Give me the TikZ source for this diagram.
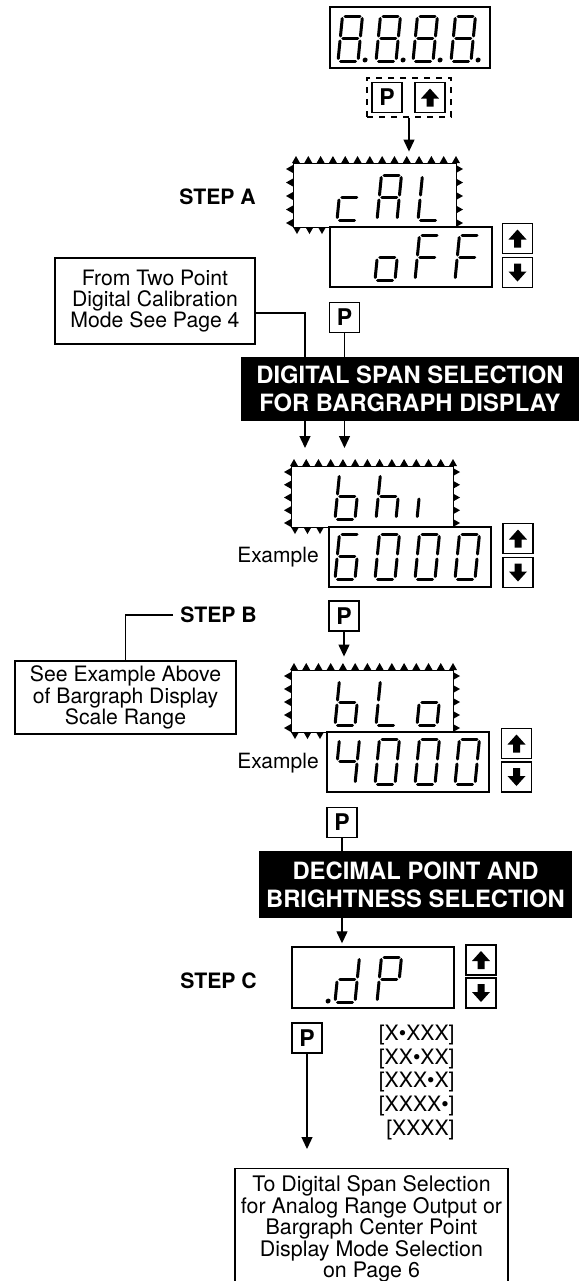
\documentclass[tikz,border=0pt]{standalone}
\usepackage{fontspec}
\setmainfont{TeX Gyre Heros}
\usetikzlibrary{arrows.meta,positioning}

\tikzset{
  seg/.style={line width=1.5pt, line cap=round},
  blinkbox/.style={draw, line width=0.45pt, inner sep=0pt},
  readout/.style={draw, line width=0.7pt, minimum width=81pt, minimum height=30pt, inner sep=0pt},
  button/.style={draw, line width=0.7pt, minimum width=15pt, minimum height=15pt, inner sep=0pt,
    font=\bfseries\fontsize{11.5}{12}\selectfont},
  upbutton/.style={button, path picture={\fill ([yshift=4.5pt]path picture bounding box.center)
    -- ++(9,10) -- ++(-5.5,0) -- ++(0,8) -- ++(-7,0) -- ++(0,-8) -- ++(-5.5,0) -- cycle;}},
  downbutton/.style={button, path picture={\fill ([yshift=-4.5pt]path picture bounding box.center)
    -- ++(9,-10) -- ++(-5.5,0) -- ++(0,-8) -- ++(-7,0) -- ++(0,8) -- ++(-5.5,0) -- cycle;}},
  notebox/.style={draw, line width=0.7pt, align=center, inner sep=0pt, font=\fontsize{10.6}{10.6}\selectfont},
  textlabel/.style={inner sep=0pt, font=\fontsize{10.5}{10.5}\selectfont},
  steplabel/.style={font=\bfseries\fontsize{10.6}{12}\selectfont},
  banner/.style={fill=black, text=white, align=center, inner sep=0pt, font=\bfseries\fontsize{11.9}{14}\selectfont},
  flow/.style={line width=0.65pt, -{Triangle[length=6pt, width=5.5pt]}},
  joinline/.style={line width=0.65pt},
}

% segments of one digit, origin at its lower left corner
\newcommand*{\Sega}{\draw[seg] (2.5,-45) -- (17.5,-45);}
\newcommand*{\Segb}{\draw[seg] (20,-42.5) -- (20,-25);}
\newcommand*{\Segc}{\draw[seg] (20,-20) -- (20,-2.5);}
\newcommand*{\Segd}{\draw[seg] (2.5,0) -- (17.5,0);}
\newcommand*{\Sege}{\draw[seg] (0,-20) -- (0,-2.5);}
\newcommand*{\Segf}{\draw[seg] (0,-42.5) -- (0,-25);}
\newcommand*{\Segg}{\draw[seg] (2.5,-22.5) -- (17.5,-22.5);}
\newcommand*{\Segp}{\fill (27,-1) circle (2.5);}
\newcommand*{\SevenSeg}[3]{%
  \begin{scope}[shift={(#1,#2)}, xslant=0.1]
    \foreach \sg in {#3}{\csname Seg\sg\endcsname}
  \end{scope}}

% flashing marks round a display
\newcommand*{\BlinkMarks}[4]{%
  \foreach \i in {0,...,13}
    \fill ({#1+3+\i*(#3-#1-3)/13},#2) ++(-4,0) -- ++(8,0) -- ++(-4,-7) -- cycle;
  \foreach \j in {0,...,4}{
    \fill (#1,{#2+6+\j*(#4-#2-10)/4}) ++(0,-4) -- ++(0,8) -- ++(-7,-4) -- cycle;
    \fill (#3,{#2+6+\j*(#4-#2-10)/4}) ++(0,-4) -- ++(0,8) -- ++(7,-4) -- cycle;}
  \foreach \k in {0,1,2}
    \fill ({#1+4+\k*12.5},#4) ++(-4,0) -- ++(8,0) -- ++(-4,7) -- cycle;}

\begin{document}
\begin{tikzpicture}[x=0.5pt, y=-0.5pt]
\useasboundingbox (0,0) rectangle (580,1281);

% display and key combination
\node[readout, minimum width=80pt, minimum height=30.5pt] (top) at (410,37.5) {};
\foreach \x in {338,376,413,451}{\SevenSeg{\x}{61}{a,b,c,d,e,f,g,p}}
\node[draw, dashed, line width=0.6pt, minimum width=42pt, minimum height=19.5pt] (keys) at (409,97.5) {};
\node[button] (kp) at (387,97.5) {P};
\node[upbutton] (ku) at (430,97.5) {};

% step A
\node[steplabel] (stepa) at (217.5,197) {STEP A};
\node[blinkbox, minimum width=81.5pt, minimum height=32pt] (cal) at (374.5,195) {};
\BlinkMarks{293}{163}{456}{227}
\SevenSeg{337}{220}{d,e,g}
\SevenSeg{377}{220}{a,b,c,e,f,g}
\SevenSeg{418}{220}{d,e,f}
\draw[flow, shorten >=5.5pt] (keys.south) -- (keys.south |- cal.north);
\node[readout] (off) at (411,257) {};
\SevenSeg{375}{280}{c,d,e,g}
\SevenSeg{415}{280}{a,e,f,g}
\SevenSeg{455}{280}{a,e,f,g}
\node[upbutton] (offup) at (517.5,238.5) {};
\node[downbutton] (offdn) at (517.5,272.5) {};

% entry into span selection
\node[notebox, minimum width=100pt, minimum height=43pt] (from) at (155,301)
  {From Two Point\\Digital Calibration\\Mode See Page 4};
\node[button] (p1) at (344.5,317.5) {P};
\coordinate (entry) at (305,448);
\draw[flow] ([yshift=-6pt]from.east) -| (entry);
\draw[flow] (p1.south) -- (p1.south |- entry);
\node[banner, minimum width=169pt, minimum height=32pt] (span) at (410,389)
  {DIGITAL SPAN SELECTION\\FOR BARGRAPH DISPLAY};

% bargraph high
\node[blinkbox, minimum width=81pt, minimum height=30.5pt] (bhi) at (372,496.5) {};
\BlinkMarks{291}{466}{453}{527}
\SevenSeg{335}{519}{c,d,e,f,g}
\SevenSeg{376}{519}{c,e,f,g}
\SevenSeg{417}{519}{e}
\node[readout] (six) at (410,557) {};
\SevenSeg{335}{579}{a,c,d,e,f,g}
\foreach \x in {375,415,455}{\SevenSeg{\x}{579}{a,b,c,d,e,f}}
\node[upbutton] (sixup) at (518,538.5) {};
\node[downbutton] (sixdn) at (518,572.5) {};
\node[textlabel] (ex1) at (278,557) {Example};

% step B
\node[steplabel] (stepb) at (218.5,615) {STEP B};
\node[notebox, minimum width=110.5pt, minimum height=36.5pt] (see) at (125.5,697.5)
  {See Example Above\\of Bargraph Display\\Scale Range};
\draw[joinline] (stepb.west) -| (see.north);
\node[button] (p2) at (344,616) {P};
\node[blinkbox, minimum width=81pt, minimum height=31pt] (blo) at (372,701) {};
\BlinkMarks{291}{670}{453}{732}
\draw[flow, shorten >=6.5pt] (p2.south) -- (p2.south |- blo.north);
\SevenSeg{335}{725}{c,d,e,f,g}
\SevenSeg{376}{725}{d,e,f}
\SevenSeg{417}{725}{c,d,e,g}
\node[readout] (four) at (408,762) {};
\SevenSeg{335}{784}{b,c,f,g}
\foreach \x in {375,415,455}{\SevenSeg{\x}{784}{a,b,c,d,e,f}}
\node[upbutton] (fourup) at (516.5,743.5) {};
\node[downbutton] (fourdn) at (516.5,777) {};
\node[textlabel] (ex2) at (278,763) {Example};

% decimal point
\node[button] (p3) at (342,822.5) {P};
\node[banner, minimum width=156.5pt, minimum height=33.5pt] (dec) at (415.5,884.5)
  {DECIMAL POINT AND\\BRIGHTNESS SELECTION};
\draw[joinline] (p3.south) -- (p3.south |- dec.north);
\node[readout, minimum height=30.5pt] (dp) at (373,977.5) {};
\draw[flow, shorten >=1.5pt] (p3 |- dec.south) -- (p3 |- dp.north);
\SevenSeg{301}{1002}{p}
\SevenSeg{335}{1002}{b,c,d,e,g}
\SevenSeg{377}{1002}{a,b,e,f,g}
\node[upbutton] (dpup) at (481,960) {};
\node[downbutton] (dpdn) at (481,993) {};
\node[steplabel] (stepc) at (218.5,981) {STEP C};
\node[button] (p4) at (307,1038) {P};
\node[textlabel, align=right, anchor=east, font=\fontsize{10.6}{11.9}\selectfont] (dpfmt) at (455,1082.5)
  {{[X•XXX]}\\{[XX•XX]}\\{[XXX•X]}\\{[XXXX•]}\\{[XXXX]}};
\node[notebox, anchor=north, minimum width=136.5pt, inner ysep=3.5pt, font=\fontsize{10.7}{10.75}\selectfont] (next) at (371.5,1168)
  {To Digital Span Selection\\for Analog Range Output or\\Bargraph Center Point\\Display Mode Selection\\on Page 6};
\draw[flow, shorten >=9.5pt] (p4.south) -- (p4.south |- next.north);
\end{tikzpicture}
\end{document}
